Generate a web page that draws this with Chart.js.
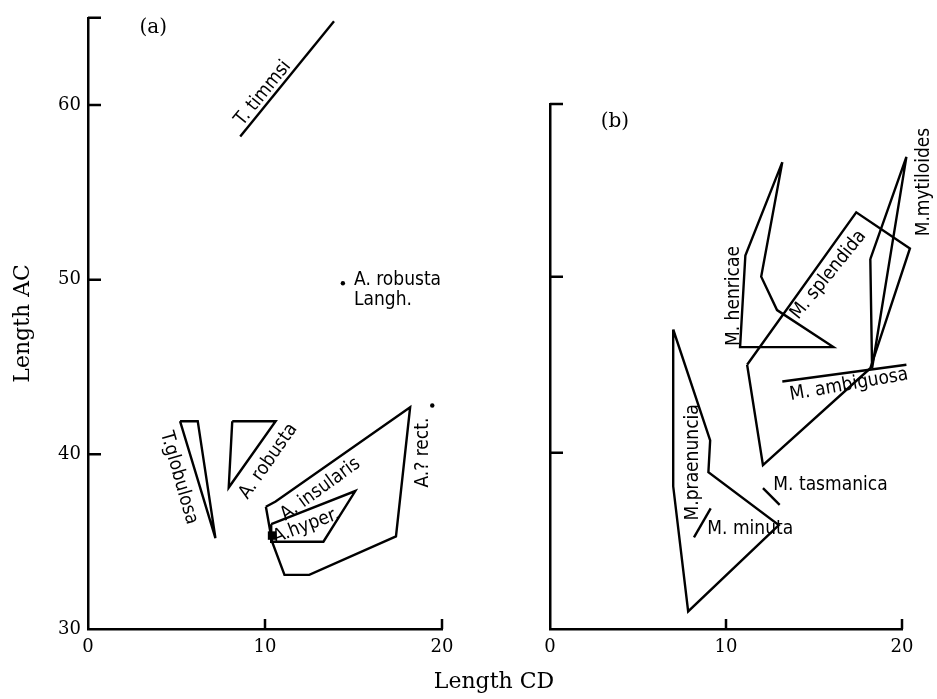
<!DOCTYPE html>
<html lang="en">
<head>
<meta charset="UTF-8">
<title>Length AC against Length CD</title>
<script src="https://cdn.jsdelivr.net/npm/chart.js"></script>
<style>
    body { margin: 0; background: #fff; }
    #wrap { position: relative; width: 937px; height: 699px; }
    #wrap canvas { position: absolute; left: 0; top: 0; }
    #xTitle {
        position: absolute; left: 494px; top: 680px;
        transform: translate(-50%, -50%);
        font: 22px "DejaVu Serif", serif; color: #000; white-space: nowrap;
    }
</style>
</head>
<body>
<div id="wrap">
    <canvas id="chartA" width="937" height="699"></canvas>
    <canvas id="chartB" width="937" height="699"></canvas>
    <div id="xTitle">Length CD</div>
</div>
<script>
// tick values
const xTicks = [0, 10, 20];
const yTicksA = [30, 40, 50, 60];
const yTicksB = [30, 40, 50];

// (a) outlines: CD values and AC values
const timmsiCD = [8.6, 13.9];
const timmsiAC = [58.2, 64.8];
const globulosaCD = [5.2, 6.2, 7.2];
const globulosaAC = [41.9, 41.9, 35.2];
const robustaCD = [8.15, 10.6, 7.95];
const robustaAC = [41.9, 41.9, 38.1];
const rectCD = [10.05, 10.6, 18.2, 17.4, 12.5, 11.1, 10.4];
const rectAC = [37.0, 37.3, 42.7, 35.3, 33.1, 33.1, 35.0];
const hyperCD = [10.35, 15.1, 13.3, 10.35];
const hyperAC = [36.0, 37.9, 35.0, 35.0];
const hyperBlockCD = [10.4];
const hyperBlockAC = [35.35];
const langhCD = [14.4];
const langhAC = [49.8];
const rectDotCD = [19.45];
const rectDotAC = [42.8];

// (b) outlines
const henricaeCD = [13.2, 11.1, 10.8, 16.1, 12.9, 12.0];
const henricaeAC = [56.5, 51.2, 46.0, 46.0, 48.1, 50.0];
const splendidaCD = [11.2, 17.4, 20.45, 18.2, 12.1];
const splendidaAC = [45.0, 53.65, 51.6, 44.8, 39.3];
const mytiloidesCD = [18.2, 20.25, 18.3];
const mytiloidesAC = [51.0, 56.8, 44.8];
const ambiguosaCD = [13.2, 20.25];
const ambiguosaAC = [44.05, 45.0];
const praenunciaCD = [7.0, 9.1, 9.0, 13.0, 7.85, 7.0];
const praenunciaAC = [47.0, 40.7, 38.9, 35.9, 31.0, 38.1];
const tasmanicaCD = [12.1, 13.05];
const tasmanicaAC = [38.0, 37.05];
const minutaCD = [9.13, 8.18];
const minutaAC = [36.85, 35.2];

const INK = '#000';
const labelFont = '19px "DejaVu Sans Condensed", "Liberation Sans Narrow", "DejaVu Sans", sans-serif';
const panelFont = '20px "DejaVu Serif", serif';

// text placed in data units (CD, AC), angle in degrees
const labelsA = [
    { text: '(a)', cd: 3.69, ac: 64.4, angle: 0, font: panelFont },
    { text: 'T. timmsi', cd: 9.89, ac: 60.68, angle: -51 },
    { text: 'A. robusta', cd: 15.03, ac: 50.0, angle: 0, align: 'left' },
    { text: 'Langh.', cd: 15.03, ac: 48.86, angle: 0, align: 'left' },
    { text: 'T.globulosa', cd: 5.13, ac: 38.65, angle: 74 },
    { text: 'A. robusta', cd: 10.2, ac: 39.6, angle: -55 },
    { text: 'A. insularis', cd: 13.13, ac: 38.0, angle: -36 },
    { text: 'A.hyper.', cd: 12.33, ac: 35.9, angle: -21 },
    { text: 'A.? rect.', cd: 18.92, ac: 40.1, angle: -90 }
];
const labelsB = [
    { text: '(b)', cd: 3.69, ac: 58.8, angle: 0, font: panelFont },
    { text: 'M. henricae', cd: 10.45, ac: 48.9, angle: -90 },
    { text: 'M. splendida', cd: 15.82, ac: 50.1, angle: -51 },
    { text: 'M.mytiloides', cd: 21.25, ac: 55.37, angle: -90 },
    { text: 'M. ambiguosa', cd: 16.99, ac: 43.86, angle: -10 },
    { text: 'M.praenuncia', cd: 8.14, ac: 39.46, angle: -90 },
    { text: 'M. tasmanica', cd: 12.69, ac: 38.18, angle: 0, align: 'left' },
    { text: 'M. minuta', cd: 8.94, ac: 35.68, angle: 0, align: 'left' }
];

Chart.defaults.font.family = '"DejaVu Serif", serif';
Chart.defaults.color = INK;

function pts(cd, ac, closed) {
    const d = cd.map((v, i) => ({ x: v, y: ac[i] }));
    if (closed) d.push(d[0]);
    return d;
}
function outline(cd, ac, closed) {
    return {
        data: pts(cd, ac, closed), showLine: true, borderColor: INK, borderWidth: 2.4,
        pointRadius: 0, tension: 0, fill: false, clip: false
    };
}
function dot(cd, ac, style, r) {
    return {
        data: pts(cd, ac, false), showLine: false, pointStyle: style, pointRadius: r,
        backgroundColor: INK, borderColor: INK, borderWidth: 0, clip: false
    };
}

// inward tick marks, top stub and the text labels
const marksPlugin = {
    id: 'marks',
    afterDatasetsDraw(chart, args, opts) {
        const ctx = chart.ctx, xs = chart.scales.x, ys = chart.scales.y;
        ctx.save();
        ctx.strokeStyle = INK;
        ctx.lineWidth = 2.5;
        ctx.beginPath();
        opts.xMarks.filter(v => v > xs.min).forEach(v => {
            const px = xs.getPixelForValue(v);
            ctx.moveTo(px, ys.bottom);
            ctx.lineTo(px, ys.bottom - 10);
        });
        opts.yMarks.filter(v => v > ys.min).concat([ys.max]).forEach(v => {
            const py = ys.getPixelForValue(v);
            ctx.moveTo(xs.left, py);
            ctx.lineTo(xs.left + 13, py);
        });
        ctx.stroke();
        ctx.fillStyle = INK;
        ctx.textBaseline = 'middle';
        opts.labels.forEach(l => {
            ctx.save();
            ctx.translate(xs.getPixelForValue(l.cd), ys.getPixelForValue(l.ac));
            ctx.rotate(l.angle * Math.PI / 180);
            ctx.font = l.font || labelFont;
            ctx.textAlign = l.align || 'center';
            ctx.fillText(l.text, 0, 0);
            ctx.restore();
        });
        ctx.restore();
    }
};

function makeChart(id, datasets, cfg) {
    return new Chart(document.getElementById(id), {
        type: 'scatter',
        data: { datasets: datasets },
        plugins: [marksPlugin],
        options: {
            responsive: false,
            animation: false,
            layout: { padding: cfg.padding },
            plugins: {
                legend: { display: false },
                tooltip: { enabled: false },
                marks: { xMarks: xTicks, yMarks: cfg.yTicks, labels: cfg.labels }
            },
            scales: {
                x: {
                    type: 'linear', min: 0, max: 20,
                    afterBuildTicks: s => { s.ticks = xTicks.map(v => ({ value: v })); },
                    afterFit: s => { s.height = 40; },
                    grid: { display: false, drawTicks: false },
                    border: { display: true, color: INK, width: 2.5 },
                    ticks: { padding: 8, font: { size: 18 }, maxRotation: 0 }
                },
                y: {
                    type: 'linear', min: 30, max: cfg.yMax,
                    afterBuildTicks: s => { s.ticks = cfg.yTicks.map(v => ({ value: v })); },
                    afterFit: s => { s.width = cfg.yWidth; },
                    grid: { display: false, drawTicks: false },
                    border: { display: true, color: INK, width: 2.5 },
                    ticks: { display: cfg.yLabels, padding: 7, font: { size: 18 } },
                    title: {
                        display: cfg.yLabels, text: 'Length AC',
                        font: { size: 22 }, padding: { top: 10, bottom: 0 }
                    }
                }
            }
        }
    });
}

makeChart('chartA', [
    outline(timmsiCD, timmsiAC, false),
    outline(globulosaCD, globulosaAC, true),
    outline(robustaCD, robustaAC, true),
    outline(rectCD, rectAC, true),
    outline(hyperCD, hyperAC, true),
    dot(hyperBlockCD, hyperBlockAC, 'rect', 6),
    dot(langhCD, langhAC, 'circle', 2.2),
    dot(rectDotCD, rectDotAC, 'circle', 2.2)
], {
    padding: { left: 0, right: 495, top: 12, bottom: 30 },
    yMax: 65, yWidth: 88, yTicks: yTicksA, yLabels: true, labels: labelsA
});

makeChart('chartB', [
    outline(henricaeCD, henricaeAC, true),
    outline(splendidaCD, splendidaAC, true),
    outline(mytiloidesCD, mytiloidesAC, true),
    outline(ambiguosaCD, ambiguosaAC, false),
    outline(praenunciaCD, praenunciaAC, true),
    outline(tasmanicaCD, tasmanicaAC, false),
    outline(minutaCD, minutaAC, false)
], {
    padding: { left: 0, right: 35, top: 104, bottom: 30 },
    yMax: 59.8, yWidth: 550, yTicks: yTicksB, yLabels: false, labels: labelsB
});
</script>
</body>
</html>
